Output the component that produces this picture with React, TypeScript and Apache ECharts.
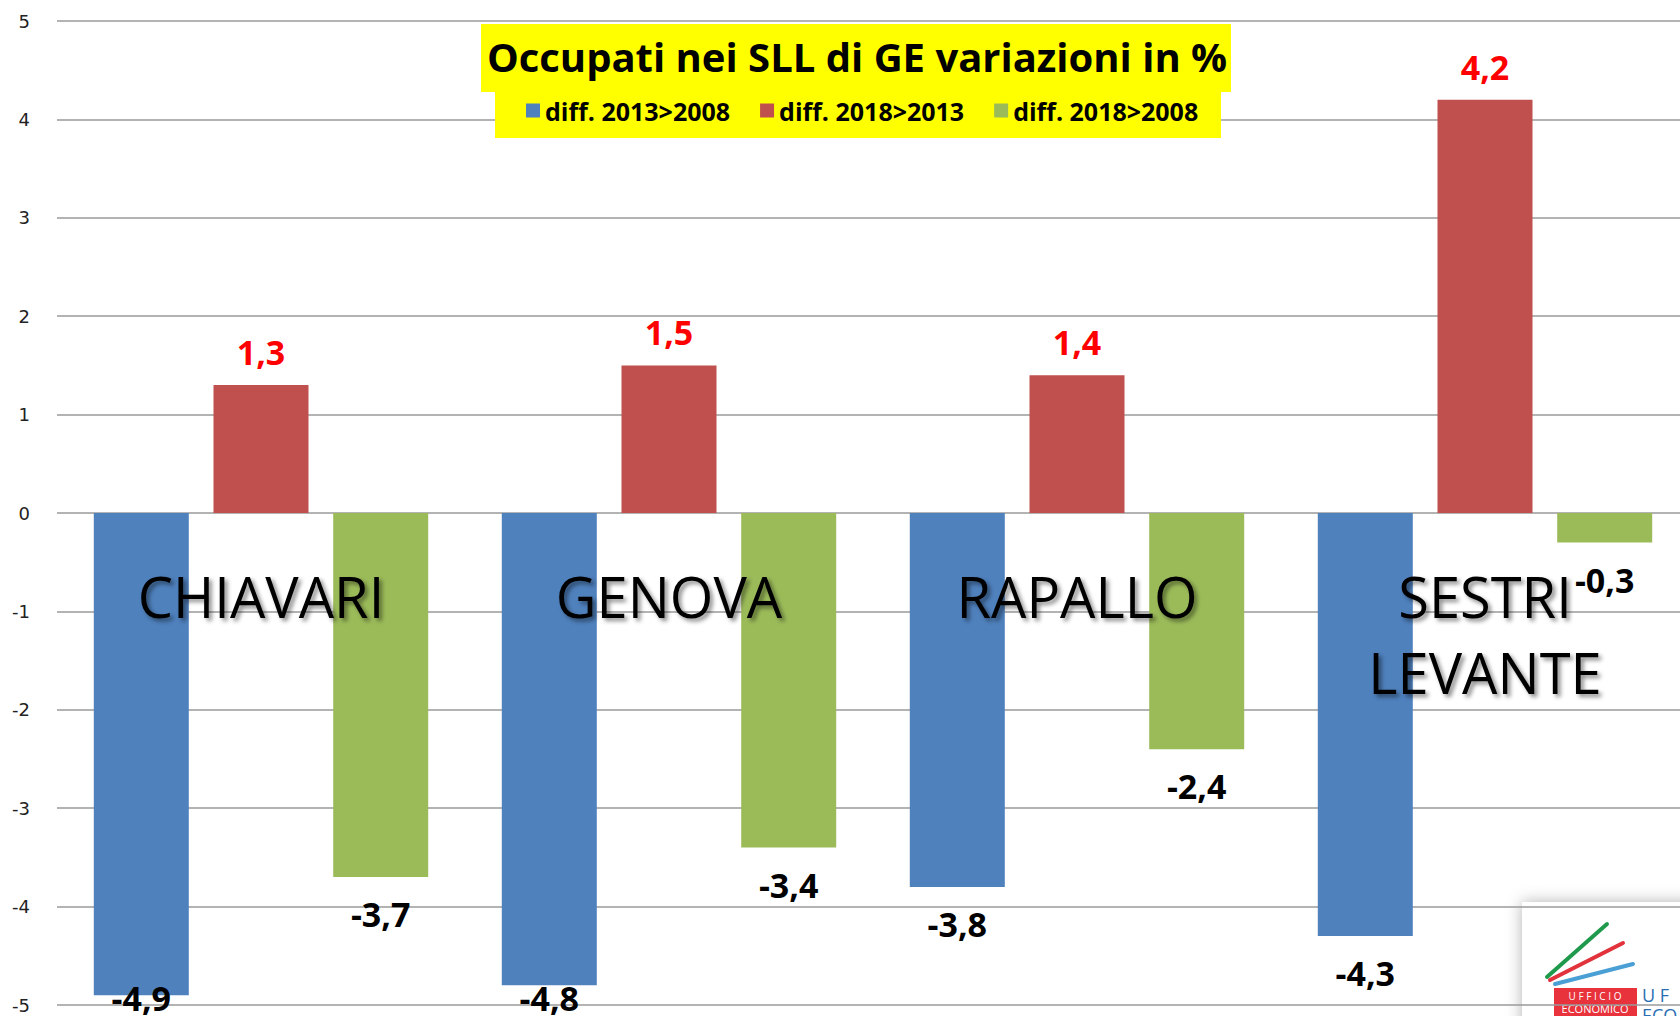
import React, { useEffect, useRef } from "react";
import * as echarts from "echarts";

const chartTitle = "Occupati nei SLL di GE variazioni in %";
const categories = ["CHIAVARI", "GENOVA", "RAPALLO", "SESTRI\nLEVANTE"];
const seriesNames = ["diff. 2013>2008", "diff. 2018>2013", "diff. 2018>2008"];
const diff2013vs2008 = [-4.9, -4.8, -3.8, -4.3];
const diff2018vs2013 = [1.3, 1.5, 1.4, 4.2];
const diff2018vs2008 = [-3.7, -3.4, -2.4, -0.3];
const yMin = -5;
const yMax = 5;
const yInterval = 1;

const COLORS = ["#4F81BD", "#C0504D", "#9BBB59"];
const FONT = "'Open Sans', 'Noto Sans', sans-serif";
const GRID_GRAY = "#9a9a9a";

const GRID_TOP = 21;
const GRID_BOTTOM = 11;
const CHART_H = 1016;
// place the category axis on the zero line (zero sits at the middle of the symmetric range)
const zeroOffset = -((CHART_H - GRID_TOP - GRID_BOTTOM) * (0 - yMin)) / (yMax - yMin);

const fmt = (p: any) => String(p.value).replace(".", ",");

const clampLabel = (params: any) => {
  const r = params.labelRect;
  const limit = 1015;
  if (r && r.y + r.height > limit) {
    return {
      x: r.x + r.width / 2,
      y: limit - r.height,
      align: "center",
      verticalAlign: "top",
    };
  }
  return {};
};

export default function App() {
  const ref = useRef<HTMLDivElement>(null);
  useEffect(() => {
    if (!ref.current) return;
    const chart = echarts.init(ref.current, undefined, { renderer: "svg" });
    const negLabel = {
      show: true,
      position: "bottom",
      distance: 20,
      formatter: fmt,
      color: "#000",
      fontSize: 34,
      fontWeight: "bold",
      fontFamily: FONT,
    };
    chart.setOption({
      animation: false,
      backgroundColor: "#fff",
      title: {
        text: chartTitle,
        left: 857,
        top: 36,
        textAlign: "center",
        padding: 0,
        z: 10,
        textStyle: {
          fontSize: 40,
          fontWeight: "bold",
          fontFamily: FONT,
          color: "#000",
        },
      },
      legend: {
        data: seriesNames,
        left: 526,
        top: 98,
        padding: 0,
        itemGap: 30,
        itemWidth: 14,
        itemHeight: 14,
        icon: "rect",
        z: 10,
        textStyle: {
          fontSize: 25,
          fontWeight: "bold",
          fontFamily: FONT,
          color: "#000",
        },
      },
      grid: {
        left: 57,
        top: GRID_TOP,
        width: 1632,
        bottom: GRID_BOTTOM,
        containLabel: false,
        outerBoundsMode: "none",
      },
      xAxis: {
        type: "category",
        data: categories,
        position: "bottom",
        offset: zeroOffset,
        z: 6,
        axisLine: { show: false, onZero: false },
        axisTick: { show: false },
        splitLine: { show: false },
        axisLabel: {
          interval: 0,
          margin: 45,
          fontSize: 56,
          lineHeight: 76,
          color: "#000",
          fontFamily: FONT,
          textShadowColor: "rgba(0,0,0,0.45)",
          textShadowBlur: 4,
          textShadowOffsetX: 3,
          textShadowOffsetY: 3,
        },
      },
      yAxis: {
        type: "value",
        min: yMin,
        max: yMax,
        interval: yInterval,
        axisLine: { show: false },
        axisTick: { show: false },
        splitLine: { show: true, lineStyle: { color: GRID_GRAY, width: 1.5 } },
        axisLabel: {
          margin: 27,
          fontSize: 18,
          color: "#222",
          fontFamily: "'DejaVu Sans', sans-serif",
        },
      },
      series: [
        {
          name: seriesNames[0],
          type: "bar",
          data: diff2013vs2008,
          barWidth: 95,
          barGap: "26%",
          itemStyle: { color: COLORS[0] },
          label: negLabel,
          labelLayout: clampLabel,
        },
        {
          name: seriesNames[1],
          type: "bar",
          data: diff2018vs2013,
          barWidth: 95,
          barGap: "26%",
          itemStyle: { color: COLORS[1] },
          label: {
            show: true,
            position: "top",
            distance: 16,
            formatter: fmt,
            color: "#FF0000",
            fontSize: 34,
            fontWeight: "bold",
            fontFamily: FONT,
          },
        },
        {
          name: seriesNames[2],
          type: "bar",
          data: diff2018vs2008,
          barWidth: 95,
          barGap: "26%",
          itemStyle: { color: COLORS[2] },
          label: negLabel,
          labelLayout: clampLabel,
        },
      ],
      graphic: [
        {
          type: "rect",
          z: 5,
          shape: { x: 481, y: 24, width: 750, height: 68 },
          style: { fill: "#FFFF00" },
        },
        {
          type: "rect",
          z: 5,
          shape: { x: 495, y: 92, width: 726, height: 46 },
          style: { fill: "#FFFF00" },
        },
        {
          type: "group",
          z: 20,
          children: [
            {
              type: "rect",
              shape: { x: 1522, y: 902, width: 180, height: 130 },
              style: { fill: "#fff", shadowBlur: 16, shadowColor: "rgba(0,0,0,0.3)" },
            },
            {
              type: "line",
              shape: { x1: 1547, y1: 977, x2: 1607, y2: 924 },
              style: { stroke: "#1f9a4c", lineWidth: 4, lineCap: "round" },
            },
            {
              type: "line",
              shape: { x1: 1550, y1: 980, x2: 1623, y2: 943 },
              style: { stroke: "#e2323c", lineWidth: 4, lineCap: "round" },
            },
            {
              type: "line",
              shape: { x1: 1555, y1: 984, x2: 1633, y2: 964 },
              style: { stroke: "#4a9fd4", lineWidth: 4, lineCap: "round" },
            },
            {
              type: "rect",
              shape: { x: 1554, y: 988, width: 83, height: 30 },
              style: { fill: "#e8323c" },
            },
            {
              type: "text",
              x: 1595,
              y: 991,
              style: { text: "U F F I C I O", fill: "#fff", fontSize: 10, fontFamily: FONT, align: "center" },
            },
            {
              type: "text",
              x: 1595,
              y: 1003,
              style: { text: "ECONOMICO", fill: "#fff", fontSize: 11, fontFamily: FONT, align: "center" },
            },
            {
              type: "text",
              x: 1642,
              y: 986,
              style: { text: "U F", fill: "#2a6eb4", fontSize: 18, fontFamily: FONT },
            },
            {
              type: "text",
              x: 1642,
              y: 1006,
              style: { text: "ECO", fill: "#2a6eb4", fontSize: 18, fontFamily: FONT },
            },
          ],
        },
      ],
    });
    return () => chart.dispose();
  }, []);
  return (
    <div
      ref={ref}
      style={{ position: "absolute", left: 0, top: 0, width: 1680, height: 1016 }}
    />
  );
}
